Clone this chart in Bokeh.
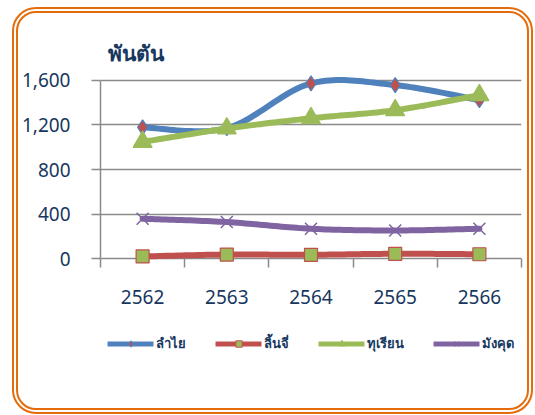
import numpy as np
from bokeh.plotting import figure
from bokeh.models import (ColumnDataSource, FixedTicker, NumeralTickFormatter,
                          Range1d, Legend, LegendItem)
from bokeh.layouts import column
from bokeh.core.properties import value
from bokeh.embed import file_html
from bokeh.resources import INLINE

# ---- data ----
years = ["2562", "2563", "2564", "2565", "2566"]
longan = [1178, 1170, 1571, 1556, 1421]
lychee = [21, 38, 36, 45, 41]
durian = [1047, 1167, 1259, 1331, 1466]
mangosteen = [359, 329, 269, 254, 269]
series_names = ["ลำไย", "ลิ้นจี่", "ทุเรียน", "มังคุด"]
y_ticks = [0, 400, 800, 1200, 1600]
unit_label = "พันตัน"

NAVY = "#17375E"
GRID = "#8A8A8A"
ORANGE = "#E46C0A"
FONT = "Noto Sans"


def smooth(ys, n=24):
    """Excel-like smoothed line (cubic Bezier through the points)."""
    y = np.asarray(ys, float)
    x = np.arange(len(y), dtype=float)
    yp = np.concatenate([[y[0]], y, [y[-1]]])
    xp = np.concatenate([[x[0]], x, [x[-1]]])
    t = np.linspace(0, 1, n)
    ox, oy = [], []
    for i in range(len(y) - 1):
        res = []
        for p in (xp, yp):
            p0, p1, p2, p3 = p[i], p[i + 1], p[i + 2], p[i + 3]
            c1 = p1 + (p2 - p0) / 6.0
            c2 = p2 - (p3 - p1) / 6.0
            res.append((1 - t) ** 3 * p1 + 3 * (1 - t) ** 2 * t * c1
                       + 3 * (1 - t) * t ** 2 * c2 + t ** 3 * p2)
        ox.extend(res[0])
        oy.extend(res[1])
    return ox, oy


W = 509
p = figure(width=W, height=310, x_range=Range1d(-0.5, 4.5),
           y_range=Range1d(-60, 1660), output_backend="svg",
           toolbar_location=None, min_border_left=80, min_border_right=2,
           min_border_top=60, min_border_bottom=58)
p.outline_line_color = None
p.background_fill_color = None
p.border_fill_color = None

p.title.text = unit_label
p.title.text_font = FONT
p.title.text_font_size = "21px"
p.title.text_font_style = "bold"
p.title.text_color = NAVY
p.title.align = "left"
p.title.offset = 7
p.title.standoff = 14

xpos = list(range(len(years)))

specs = [
    (longan, "#4F81BD", "diamond", 15, "#C0504D", "#4F81BD", 7),
    (lychee, "#C0504D", "square", 13, "#9BBB59", "#C0504D", 9),
    (durian, "#9BBB59", "triangle", 19, "#9BBB59", "#9BBB59", 9),
    (mangosteen, "#8064A2", "x", 17, None, "#8064A2", 9),
]

# legend strip (separate figure so that nothing is clipped)
lg = figure(width=W, height=85, x_range=Range1d(0, 1), y_range=Range1d(0, 1),
            output_backend="svg", toolbar_location=None,
            x_axis_location=None, y_axis_location=None,
            min_border_left=0, min_border_right=6, min_border_top=0,
            min_border_bottom=45)
lg.outline_line_color = None
lg.grid.grid_line_color = None
lg.background_fill_color = None
lg.border_fill_color = None

items = []
for (vals, col, mk, sz, fill, lcol, lsz), name in zip(specs, series_names):
    sx, sy = smooth(vals)
    p.line(sx, sy, line_color=col, line_width=6, line_cap="round", line_join="round")
    src = ColumnDataSource(dict(x=xpos, y=vals))
    if mk == "x":
        p.scatter("x", "y", source=src, marker=mk, size=sz, line_color=lcol, line_width=1.5)
    else:
        p.scatter("x", "y", source=src, marker=mk, size=sz, fill_color=fill,
                  line_color=lcol, line_width=1.2)
    # legend sample renderers (kept outside the strip's visible range)
    e = ColumnDataSource(dict(x=[5, 6], y=[5, 5]))
    lr = lg.line("x", "y", source=e, line_color=col, line_width=5, line_cap="round")
    if mk == "x":
        mr = lg.scatter("x", "y", source=e, marker=mk, size=lsz, line_color=lcol, line_width=1.2)
    else:
        mr = lg.scatter("x", "y", source=e, marker=mk, size=lsz, fill_color=fill,
                        line_color=lcol, line_width=1)
    items.append(LegendItem(label=value(name), renderers=[lr, mr]))

# y axis
p.yaxis.ticker = FixedTicker(ticks=y_ticks)
p.yaxis.formatter = NumeralTickFormatter(format="0,0")
p.yaxis.bounds = (0, 1600)
p.yaxis.axis_line_color = GRID
p.yaxis.axis_line_width = 1.5
p.yaxis.major_tick_line_color = GRID
p.yaxis.major_tick_line_width = 1.5
p.yaxis.major_tick_out = 9
p.yaxis.major_tick_in = 0
p.yaxis.minor_tick_line_color = None
p.yaxis.major_label_text_font = FONT
p.yaxis.major_label_text_font_size = "19px"
p.yaxis.major_label_text_color = NAVY
p.yaxis.major_label_standoff = 21

# x axis (at frame bottom; the zero grid line acts as axis line)
p.xaxis.ticker = FixedTicker(ticks=xpos, minor_ticks=[i - 0.5 for i in range(len(years) + 1)])
p.xaxis.major_label_overrides = {i: y for i, y in enumerate(years)}
p.xaxis.axis_line_color = None
p.xaxis.major_tick_line_color = None
p.xaxis.major_tick_out = 0
p.xaxis.major_tick_in = 0
p.xaxis.minor_tick_line_color = GRID
p.xaxis.minor_tick_line_width = 1.5
p.xaxis.minor_tick_out = 2
p.xaxis.minor_tick_in = 7
p.xaxis.major_label_text_font = FONT
p.xaxis.major_label_text_font_size = "19px"
p.xaxis.major_label_text_color = NAVY
p.xaxis.major_label_standoff = 22

p.xgrid.grid_line_color = None
p.ygrid.ticker = FixedTicker(ticks=y_ticks)
p.ygrid.grid_line_color = GRID
p.ygrid.grid_line_width = 1.5

legend = Legend(items=items, orientation="horizontal", location="center",
                glyph_width=46, glyph_height=16, label_standoff=3, spacing=29,
                label_text_font=FONT, label_text_font_size="13px",
                label_text_font_style="bold", label_text_color=NAVY,
                border_line_color=None, background_fill_color=None,
                padding=0, margin=0)
lg.add_layout(legend, "center")

lay = column(p, lg, spacing=0,
             styles={"border": "6px double " + ORANGE, "border-radius": "24px",
                     "margin-left": "12px", "margin-top": "7px"})

open("out.html", "w").write(file_html(lay, INLINE))
